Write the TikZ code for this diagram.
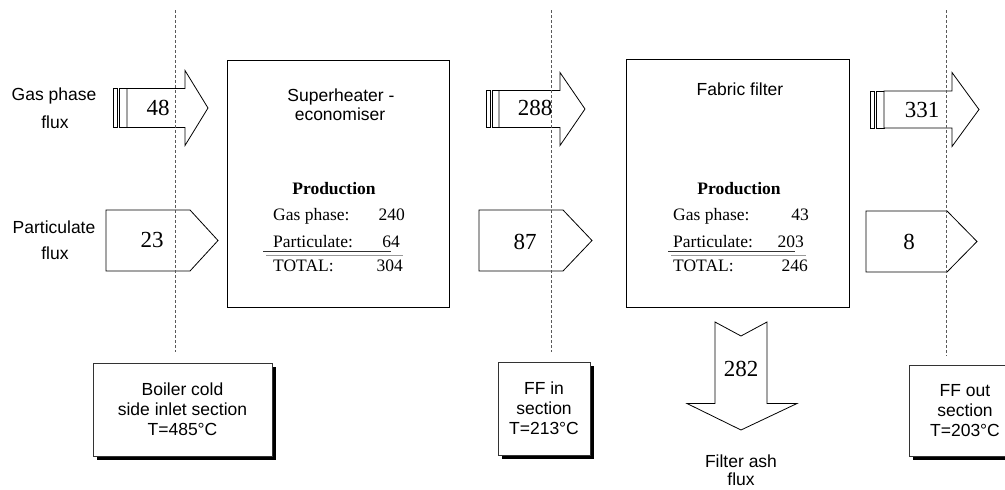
\documentclass[tikz,border=0pt]{standalone}
\usepackage{fontspec}
\setmainfont{Liberation Serif}
\newfontfamily\arialf{Liberation Sans}
\begin{document}
\begin{tikzpicture}[x=1pt,y=-1pt,
  sans/.style={font=\arialf\fontsize{17.5}{20}\selectfont, inner sep=0pt},
  ser/.style={font=\fontsize{17.5}{20}\selectfont, inner sep=0pt},
  serb/.style={font=\bfseries\fontsize{17.5}{20}\selectfont, inner sep=0pt},
  num/.style={font=\fontsize{23}{25}\selectfont, inner sep=0pt},
  flow/.style={draw=black, line width=0.8pt, fill=white, line join=miter},
  secline/.style={draw=black!65, line width=0.8pt, dash pattern=on 3pt off 2pt},
  mainbox/.style={draw=black, line width=1pt, fill=white, inner sep=0pt},
  secbox/.style={draw=black!80, line width=0.8pt, fill=white, inner sep=0pt, align=center,
    font=\arialf\fontsize{17.5}{20}\selectfont},
  shade/.style={fill=black},
  rule/.style={draw=black!80, line width=0.9pt},
  rulegrey/.style={draw=black!40, line width=0.7pt}]
\clip (0,0) rectangle (1005,490);
\fill[white] (0,0) rectangle (1005,490);

% ---------- main process boxes ----------
\node[mainbox, minimum width=222pt, minimum height=247pt] (sh) at (338,183.5) {};
\node[mainbox, minimum width=223pt, minimum height=248pt] (ff) at (737.5,183) {};

% ---------- gas phase arrows ----------
\draw[flow] (113,88.5) rectangle (117,127.5);
\draw[flow] (119.5,88.5) rectangle (127,127.5);
\draw[flow] (127,88.5) -- (185,88.5) -- (185,70.5) -- (208,108) -- (185,145.5) -- (185,127.5) -- (127,127.5) -- cycle;

\draw[flow] (486,90.5) rectangle (490,127.5);
\draw[flow] (492.5,90.5) rectangle (499,127.5);
\draw[flow] (499,90.5) -- (560,90.5) -- (560,72.5) -- (585,109) -- (560,145.5) -- (560,127.5) -- (499,127.5) -- cycle;

\draw[flow] (870,91) rectangle (874,128);
\draw[flow] (876.5,91) rectangle (884,128);
\draw[flow] (884,91) -- (952,91) -- (952,72.5) -- (979,109.5) -- (952,146.5) -- (952,128) -- (884,128) -- cycle;

% ---------- particulate arrows ----------
\draw[flow] (106,210) -- (190,210) -- (218,240.5) -- (190,271) -- (106,271) -- cycle;
\draw[flow] (479,210) -- (563,210) -- (592,240.5) -- (563,271) -- (479,271) -- cycle;
\draw[flow] (866,211) -- (947,211) -- (977,241.5) -- (947,272) -- (866,272) -- cycle;

% ---------- filter ash arrow ----------
\draw[flow] (715,322) -- (741,336) -- (767,322) -- (767,403.5) -- (797,403.5) -- (741,430) -- (687,403.5) -- (715,403.5) -- cycle;

% ---------- section lines ----------
\coordinate (d1t) at (175,10);  \coordinate (d1b) at (175,352);
\coordinate (d2t) at (551,10);  \coordinate (d2b) at (551,352);
\coordinate (d3t) at (946,10);  \coordinate (d3b) at (946,356);
\draw[secline] (d1t) -- (d1b);
\draw[secline] (d2t) -- (d2b);
\draw[secline] (d3t) -- (d3b);

% ---------- flux numbers ----------
\node[num] (g1) at (158,108) {48};
\node[num] (p1) at (152,240) {23};
\node[num] (g2) at (535,108) {288};
\node[num] (p2) at (525,242) {87};
\node[num] (g3) at (922,110) {331};
\node[num] (p3) at (909,242) {8};
\node[num] (fa) at (741,369) {282};

% ---------- left labels ----------
\node[sans, anchor=base] (gl1) at (54,100) {Gas phase};
\node[sans, anchor=base] (gl2) at (55,128.5) {flux};
\node[sans, anchor=base] (pl1) at (54,233) {Particulate};
\node[sans, anchor=base] (pl2) at (55,259) {flux};

% ---------- superheater box text ----------
\node[sans, anchor=base] (shl1) at (341,101) {Superheater -};
\node[sans, anchor=base] (shl2) at (340,120) {economiser};
\node[serb, anchor=base] (shp) at (334,194) {Production};
\node[ser, anchor=base west] (shg) at (273,220) {Gas phase:};
\node[ser, anchor=base east] (shgv) at (405,220) {240};
\node[ser, anchor=base west] (shpa) at (273,247) {Particulate:};
\node[ser, anchor=base east] (shpv) at (400,247) {64};
\node[ser, anchor=base west] (sht) at (273,271) {TOTAL:};
\node[ser, anchor=base east] (shtv) at (403,271) {304};
\coordinate (shu1) at (263,251); \coordinate (shu2) at (391,251);
\coordinate (shv1) at (266,255); \coordinate (shv2) at (403,255);
\draw[rule] (shu1) -- (shu2);
\draw[rulegrey] (shv1) -- (shv2);

% ---------- fabric filter box text ----------
\node[sans, anchor=base] (ffl) at (740,95) {Fabric filter};
\node[serb, anchor=base] (ffp) at (739,194) {Production};
\node[ser, anchor=base west] (ffg) at (673,220) {Gas phase:};
\node[ser, anchor=base east] (ffgv) at (809,220) {43};
\node[ser, anchor=base west] (ffpa) at (673,247) {Particulate:};
\node[ser, anchor=base east] (ffpv) at (804,247) {203};
\node[ser, anchor=base west] (fft) at (673,271) {TOTAL:};
\node[ser, anchor=base east] (fftv) at (808,271) {246};
\coordinate (ffu1) at (668,251); \coordinate (ffu2) at (795,251);
\coordinate (ffv1) at (671,255); \coordinate (ffv2) at (806,255);
\draw[rule] (ffu1) -- (ffu2);
\draw[rulegrey] (ffv1) -- (ffv2);

% ---------- filter ash label ----------
\node[sans, anchor=base] (fal1) at (741,467) {Filter ash};
\node[sans, anchor=base] (fal2) at (741,485) {flux};

% ---------- section boxes ----------
\fill[shade] (96.5,366.5) rectangle (275.5,459.5);
\node[secbox, minimum width=179pt, minimum height=93pt] (bA) at (182.5,409.5) {Boiler cold\\side inlet section\\T=485°C};
\fill[shade] (501.5,365.5) rectangle (593.5,458.5);
\node[secbox, minimum width=92pt, minimum height=93pt] (bB) at (544,408.5) {FF in\\section\\T=213°C};
\fill[shade] (912.5,368.5) rectangle (1024.5,459.5);
\node[secbox, minimum width=112pt, minimum height=91pt] (bC) at (965,410.5) {FF out\\section\\T=203°C};
\end{tikzpicture}
\end{document}
